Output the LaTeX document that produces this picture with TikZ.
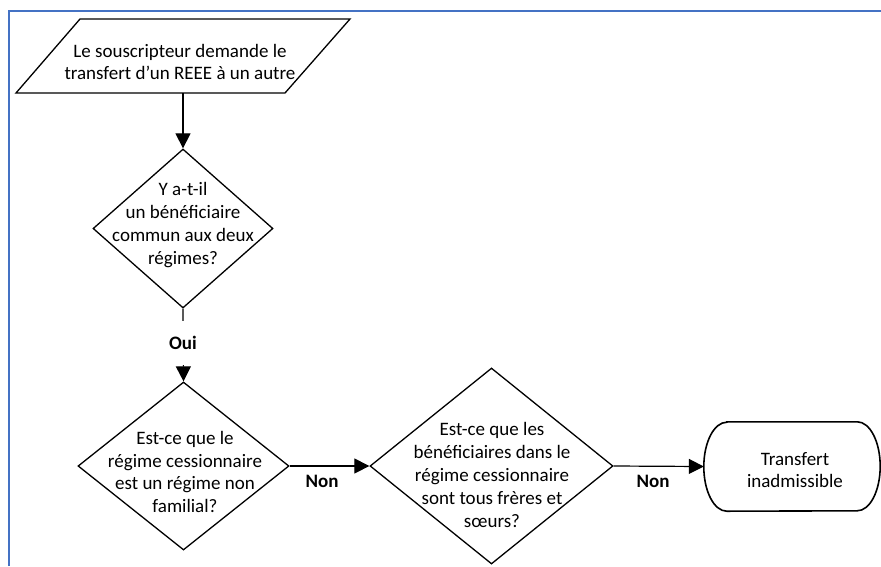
\documentclass[tikz,border=0pt]{standalone}
\usepackage{fontspec}
\setmainfont{Carlito}
\usetikzlibrary{arrows.meta,shapes.geometric}
\begin{document}
\begin{tikzpicture}[x=1pt,y=-1pt,
  txt/.style={font=\fontsize{19pt}{22.8pt}\selectfont, align=center, inner sep=0pt},
  lbl/.style={font=\fontsize{19pt}{22.8pt}\selectfont\bfseries, inner sep=0pt},
  shapeline/.style={draw=black, line width=1.3pt},
  decision/.style={diamond, shapeline, inner sep=0pt},
  conn/.style={draw=black, line width=1.2pt, -{Triangle[length=15pt,width=15pt]}},
  frame/.style={draw={rgb,255:red,68;green,114;blue,196}, line width=2.5pt}
]
\useasboundingbox (0,0) rectangle (881,566);
% frame
\draw[frame] (9,566) -- (9,11) -- (881,11);

% start parallelogram
\draw[shapeline, line join=miter] (80,19) -- (350,19) -- (285,93) -- (16,93) -- cycle;
\node[txt] (starttxt) at (180,62) {Le souscripteur demande le\\transfert d’un REEE à un autre};
\coordinate (startbot) at (183,93);

% decision 1
\node[decision, minimum width=180pt, minimum height=159pt] (d1) at (183,228.5) {};
\node[txt] (d1txt) at (183,225) {Y a-t-il\\un bénéficiaire\\commun aux deux\\régimes?};

% decision 2
\node[decision, minimum width=211pt, minimum height=168pt] (d2) at (183.5,466) {};
\node[txt] (d2txt) at (185,472) {Est-ce que le\\régime cessionnaire\\est un régime non\\familial?};

% decision 3
\node[decision, minimum width=243pt, minimum height=196pt] (d3) at (491.5,466) {};
\node[txt] (d3txt) at (492,475) {Est-ce que les\\bénéficiaires dans le\\régime cessionnaire\\sont tous frères et\\sœurs?};

% terminal
\node[minimum width=176pt, minimum height=89pt, inner sep=0pt] (term) at (792,466.5) {};
\draw[shapeline, line width=1.6pt]
  ([xshift=23pt]term.north west) -- ([xshift=-23pt]term.north east)
  arc[start angle=90, end angle=-90, x radius=23pt, y radius=44.5pt]
  -- ([xshift=23pt]term.south west)
  arc[start angle=270, end angle=90, x radius=23pt, y radius=44.5pt] -- cycle;
\node[txt] (termtxt) at (795,470) {Transfert\\inadmissible};

% connectors
\draw[conn] (startbot) -- (d1.north);
\draw[conn] (d1.south) -- (d2.north);
\node[lbl, fill=white, minimum height=44pt, minimum width=40pt] (oui) at (183,343) {Oui};
\draw[conn] (d2.east) -- (d3.west);
\node[lbl] (non1) at (322,481) {Non};
\draw[conn] (d3.east) -- (term.west);
\node[lbl] (non2) at (653,481) {Non};
\end{tikzpicture}
\end{document}
